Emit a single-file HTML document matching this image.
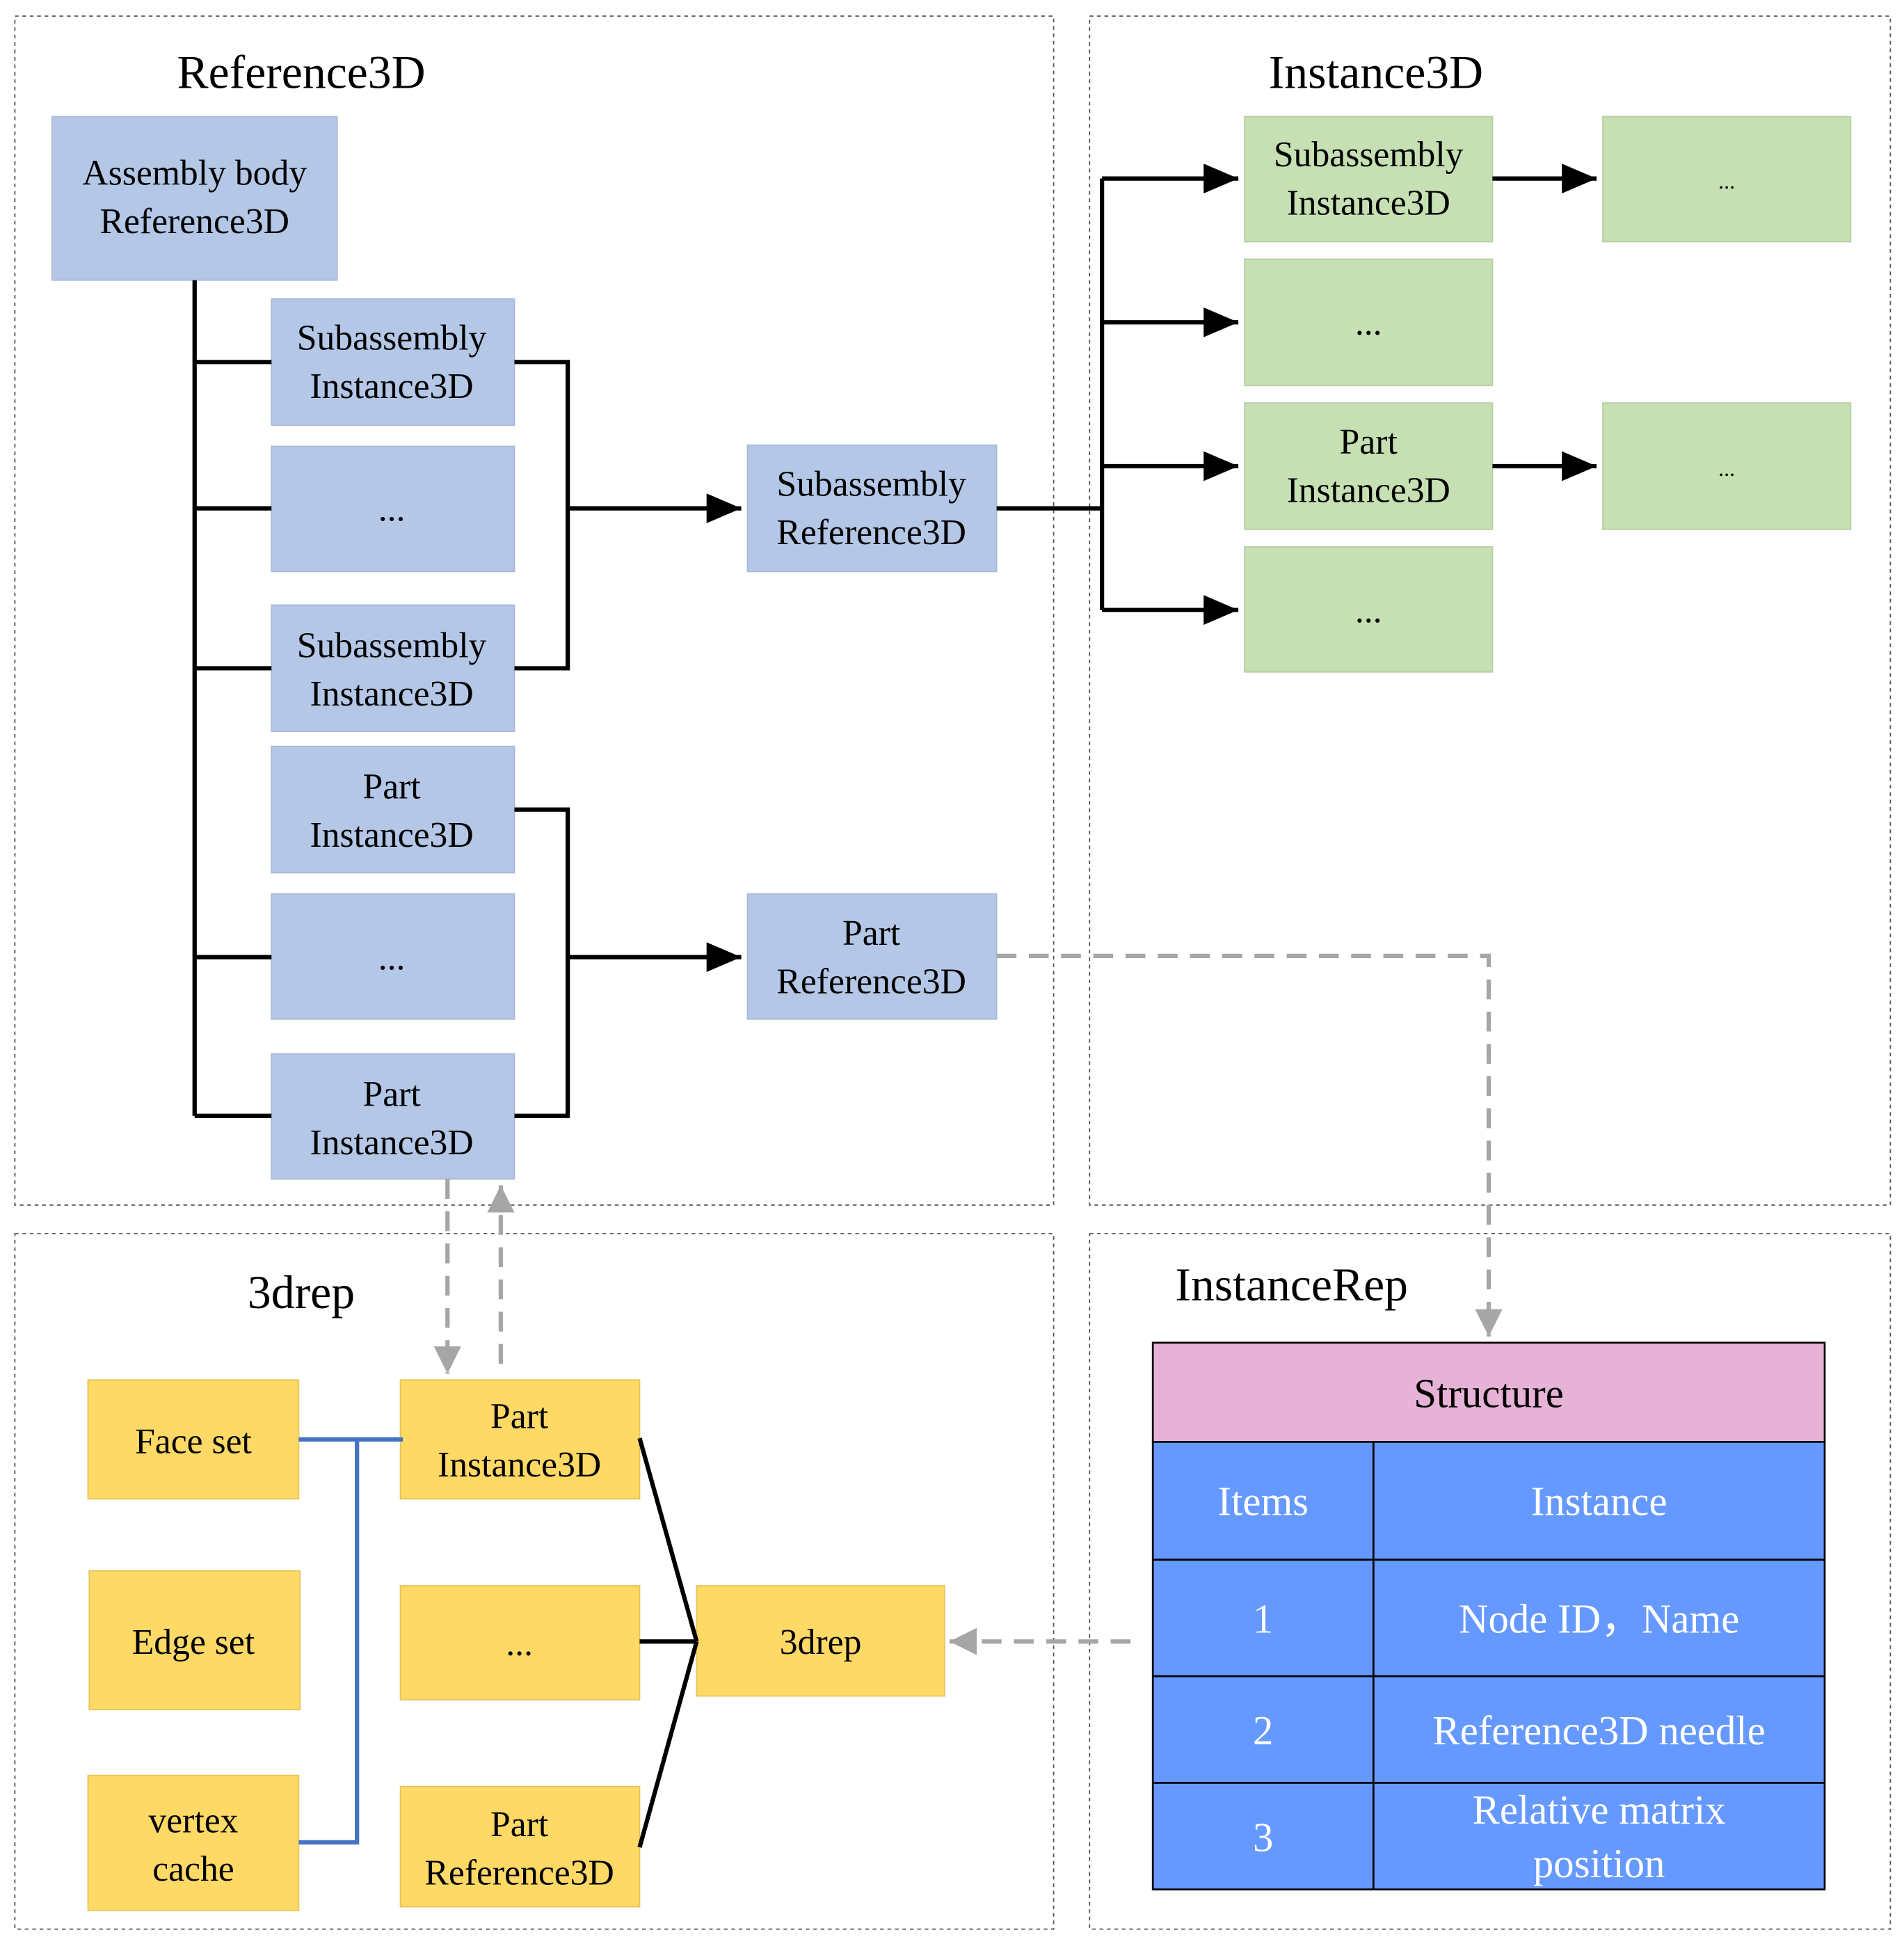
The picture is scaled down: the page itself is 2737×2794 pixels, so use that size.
<!DOCTYPE html>
<html><head><meta charset="utf-8"><style>html,body{margin:0;padding:0;background:#fff}svg{display:block}</style></head><body>
<svg width="2737" height="2794" viewBox="0 0 1536 1568" preserveAspectRatio="none" xmlns="http://www.w3.org/2000/svg" font-family="Liberation Serif, serif">
<defs>
<marker id="ab" markerWidth="28" markerHeight="24" refX="10" refY="5" orient="auto" markerUnits="userSpaceOnUse" viewBox="0 0 10 10" preserveAspectRatio="none"><path d="M0,0 L10,5 L0,10 z" fill="#000"/></marker>
<marker id="ag" markerWidth="22" markerHeight="22" refX="10" refY="5" orient="auto" markerUnits="userSpaceOnUse" viewBox="0 0 10 10" preserveAspectRatio="none"><path d="M0,0 L10,5 L0,10 z" fill="#a6a6a6"/></marker>
</defs>
<g fill="none" stroke="#555" stroke-width="1" stroke-dasharray="3,3">
<rect x="12" y="13" width="838" height="959"/><rect x="879" y="13" width="646" height="959"/>
<rect x="12" y="995" width="838" height="561"/><rect x="879" y="995" width="646" height="561"/>
</g>
<g font-size="38" fill="#000" text-anchor="middle">
<text x="243" y="71">Reference3D</text><text x="1110" y="71">Instance3D</text>
<text x="243" y="1055">3drep</text><text x="1042" y="1049">InstanceRep</text>
</g>
<g fill="#b4c7e7" stroke="#a9b9d6">
<rect x="42" y="94" width="230" height="132"/>
<rect x="219" y="241" width="196" height="102"/><rect x="219" y="360" width="196" height="101"/>
<rect x="219" y="488" width="196" height="102"/><rect x="219" y="602" width="196" height="102"/>
<rect x="219" y="721" width="196" height="101"/><rect x="219" y="850" width="196" height="101"/>
<rect x="603" y="359" width="201" height="102"/><rect x="603" y="721" width="201" height="101"/>
</g>
<g fill="#c6e0b4" stroke="#b5cfa5">
<rect x="1004" y="94" width="200" height="101"/><rect x="1004" y="209" width="200" height="102"/>
<rect x="1004" y="325" width="200" height="102"/><rect x="1004" y="441" width="200" height="101"/>
<rect x="1293" y="94" width="200" height="101"/><rect x="1293" y="325" width="200" height="102"/>
</g>
<g fill="#ffd966" stroke="#e6c45a">
<rect x="71" y="1113" width="170" height="96"/><rect x="72" y="1267" width="170" height="112"/>
<rect x="71" y="1432" width="170" height="109"/><rect x="323" y="1113" width="193" height="96"/>
<rect x="323" y="1279" width="193" height="92"/><rect x="323" y="1441" width="193" height="97"/>
<rect x="562" y="1279" width="200" height="89"/>
</g>
<g stroke="#000" stroke-width="3.5" fill="none">
<path d="M157 226 V900"/>
<path d="M157 292 H219 M157 410 H219 M157 539 H219 M157 772 H219 M157 900 H219"/>
<path d="M415 292 H458 V539 H415 M415 653 H458 V900 H415"/>
<path d="M458 410 H598" marker-end="url(#ab)"/><path d="M458 772 H598" marker-end="url(#ab)"/>
<path d="M804 410 H889 M889 144 V492"/>
<path d="M889 144 H999" marker-end="url(#ab)"/><path d="M889 260 H999" marker-end="url(#ab)"/>
<path d="M889 376 H999" marker-end="url(#ab)"/><path d="M889 492 H999" marker-end="url(#ab)"/>
<path d="M1204 144 H1288" marker-end="url(#ab)"/><path d="M1204 376 H1288" marker-end="url(#ab)"/>
<path d="M516 1160 L562 1324 M516 1324 H562 M516 1490 L562 1324"/>
</g>
<path d="M241 1161 H325 M288 1161 V1486 H241" stroke="#4472c4" stroke-width="3.5" fill="none"/>
<g stroke="#a6a6a6" stroke-width="3.5" fill="none" stroke-dasharray="16,10">
<path d="M804 771 H1201 V1078" marker-end="url(#ag)"/>
<path d="M361 951 V1108" marker-end="url(#ag)"/>
<path d="M404 1100 V956" marker-end="url(#ag)"/>
<path d="M912 1324 H766" marker-end="url(#ag)"/>
</g>
<g font-size="29" fill="#000" text-anchor="middle">
<text x="157" y="149">Assembly body</text><text x="157" y="188">Reference3D</text>
<text x="316" y="282">Subassembly</text><text x="316" y="321">Instance3D</text>
<text x="316" y="420">...</text>
<text x="316" y="530">Subassembly</text><text x="316" y="569">Instance3D</text>
<text x="316" y="644">Part</text><text x="316" y="683">Instance3D</text>
<text x="316" y="782">...</text>
<text x="316" y="892">Part</text><text x="316" y="931">Instance3D</text>
<text x="703" y="400">Subassembly</text><text x="703" y="439">Reference3D</text>
<text x="703" y="762">Part</text><text x="703" y="801">Reference3D</text>
<text x="1104" y="134">Subassembly</text><text x="1104" y="173">Instance3D</text>
<text x="1104" y="270">...</text>
<text x="1104" y="366">Part</text><text x="1104" y="405">Instance3D</text>
<text x="1104" y="502">...</text>
<text x="1393" y="152" font-size="18">...</text><text x="1393" y="384" font-size="18">...</text>
<text x="156" y="1172">Face set</text><text x="156" y="1334">Edge set</text>
<text x="156" y="1478">vertex</text><text x="156" y="1517">cache</text>
<text x="419" y="1152">Part</text><text x="419" y="1191">Instance3D</text>
<text x="419" y="1335">...</text>
<text x="419" y="1481">Part</text><text x="419" y="1520">Reference3D</text>
<text x="662" y="1334">3drep</text>
</g>
<rect x="930" y="1083" width="542" height="80" fill="#e6b3d6" stroke="#000" stroke-width="1.5"/>
<rect x="930" y="1163" width="542" height="361" fill="#6699ff" stroke="#000" stroke-width="1.5"/>
<g stroke="#000" stroke-width="1.5"><path d="M930 1258 H1472 M930 1352 H1472 M930 1438 H1472 M1108 1163 V1524"/></g>
<text x="1201" y="1135" font-size="33" text-anchor="middle" fill="#000">Structure</text>
<g font-size="33" fill="#fff" text-anchor="middle">
<text x="1019" y="1222">Items</text><text x="1290" y="1222">Instance</text>
<text x="1019" y="1317">1</text><text x="1290" y="1317">Node ID，Name</text>
<text x="1019" y="1407">2</text><text x="1290" y="1407">Reference3D needle</text>
<text x="1019" y="1493">3</text><text x="1290" y="1471">Relative matrix</text><text x="1290" y="1514">position</text>
</g>
</svg>
</body></html>
